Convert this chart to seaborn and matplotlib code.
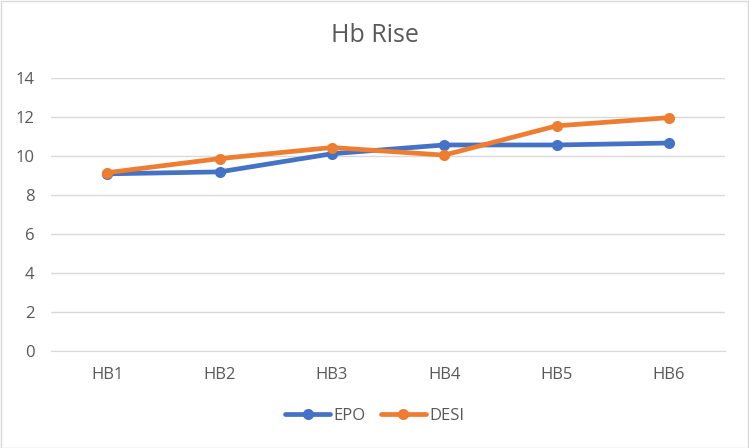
import pandas as pd
import matplotlib.pyplot as plt
import seaborn as sns

categories = ["HB1", "HB2", "HB3", "HB4", "HB5", "HB6"]
epo = [9.07, 9.17, 10.1, 10.55, 10.55, 10.65]
desi = [9.13, 9.85, 10.42, 10.03, 11.53, 11.95]

data = pd.DataFrame({
    "Stage": categories * 2,
    "Hb": epo + desi,
    "Group": ["EPO"] * len(categories) + ["DESI"] * len(categories),
})

sns.set_style("white")
plt.rcParams['font.family'] = ['Open Sans', 'DejaVu Sans']
text_color = '#595959'

fig = plt.figure(figsize=(7.49, 4.48), dpi=100)
ax = fig.add_axes([51 / 749, 1 - 350.7 / 448, 674 / 749, 273 / 448])

sns.lineplot(data=data, x="Stage", y="Hb", hue="Group", sort=False,
             palette={"EPO": "#4472C4", "DESI": "#ED7D31"},
             marker="o", markersize=8, markeredgewidth=0, linewidth=3.4,
             ax=ax)

ax.set_ylim(0, 14)
ax.set_yticks(range(0, 15, 2))
ax.set_xlim(-0.5, 5.5)
ax.grid(axis='y', color='#d9d9d9', linewidth=1)
ax.set_axisbelow(True)
for side in ['top', 'right', 'left']:
    ax.spines[side].set_visible(False)
ax.spines['bottom'].set_color('#d9d9d9')
ax.tick_params(axis='both', colors=text_color, labelsize=12, length=0)
ax.tick_params(axis='y', pad=12)
ax.tick_params(axis='x', pad=12)
ax.set_xlabel('')
ax.set_ylabel('')

fig.suptitle('Hb Rise', x=0.5, y=1 - 36 / 448, va='center',
             fontsize=18, color=text_color)

ax.legend(loc='center', bbox_to_anchor=(0.5, 1 - 416 / 448),
          bbox_transform=fig.transFigure, ncol=2, frameon=False,
          fontsize=12, labelcolor=text_color, handlelength=2.7,
          columnspacing=0.9, handletextpad=0.2)

# light border around the chart
fig.patches.append(plt.Rectangle((0.5 / 749, 0.5 / 448), 747.5 / 749, 446.5 / 448,
                                 transform=fig.transFigure, fill=False,
                                 edgecolor='#d9d9d9', linewidth=1))

plt.savefig("out.png", dpi=100)
